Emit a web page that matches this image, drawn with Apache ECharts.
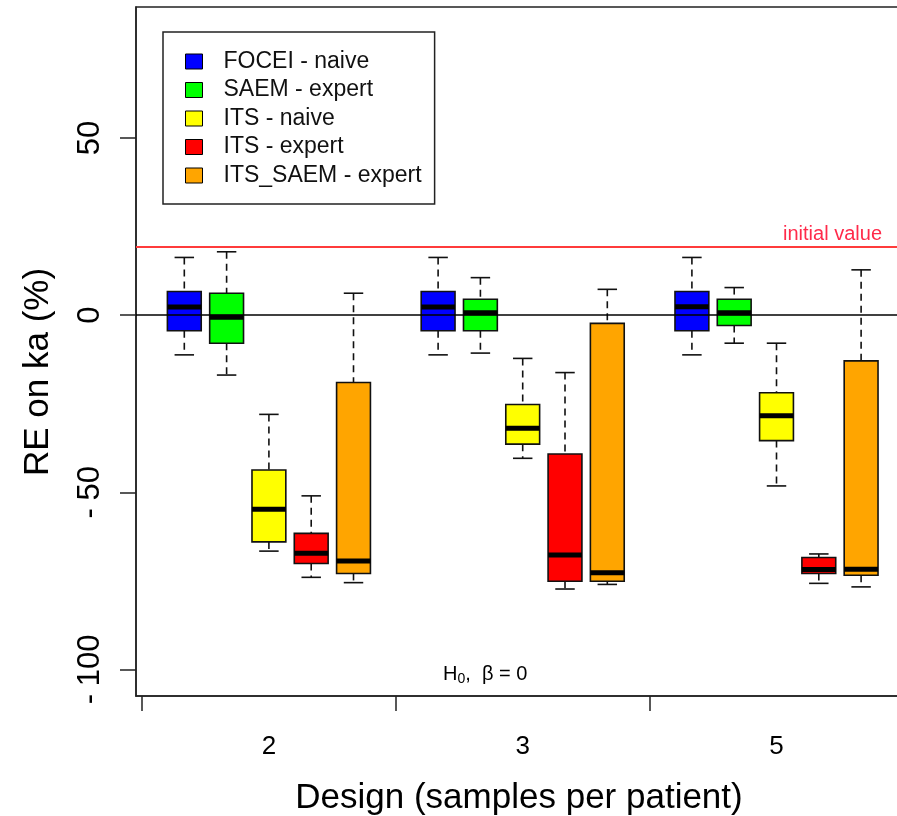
<!DOCTYPE html>
<html>
<head>
<meta charset="utf-8">
<script src="https://cdn.jsdelivr.net/npm/echarts@6/dist/echarts.min.js"></script>
<style>html,body{margin:0;padding:0;background:#fff}#c{width:897px;height:816px}</style>
</head>
<body>
<div id="c"></div>
<script>
// Designs (samples per patient)
var designs = ['2', '3', '5'];
var methods = ['FOCEI - naive', 'SAEM - expert', 'ITS - naive', 'ITS - expert', 'ITS_SAEM - expert'];
var colors = ['#0000ff', '#00ff00', '#ffff00', '#ff0000', '#ffa500'];
// each entry: [lower whisker, Q1, median, Q3, upper whisker] per design
var foceiNaive   = [[-11.2, -4.4, 2.3, 6.7, 16.3], [-11.2, -4.4, 2.3, 6.7, 16.3], [-11.2, -4.4, 2.4, 6.7, 16.3]];
var saemExpert   = [[-16.9, -7.9, -0.6, 6.2, 17.9], [-10.7, -4.4, 0.7, 4.5, 10.6], [-7.9, -2.9, 0.7, 4.5, 7.8]];
var itsNaive     = [[-66.6, -64.0, -54.8, -43.7, -28.0], [-40.4, -36.4, -31.9, -25.2, -12.2], [-48.2, -35.4, -28.4, -21.9, -7.9]];
var itsExpert    = [[-74.0, -70.1, -67.2, -61.6, -51.0], [-77.3, -75.1, -67.7, -39.2, -16.2], [-75.7, -72.9, -71.8, -68.4, -67.4]];
var itsSaemExpert= [[-75.5, -72.9, -69.4, -19.0, 6.2], [-76.0, -75.1, -72.7, -2.3, 7.3], [-76.7, -73.4, -71.7, -12.9, 12.8]];
var initialValue = 19.2;
var yTicks = [-100, -50, 0, 50];

var allStats = [foceiNaive, saemExpert, itsNaive, itsExpert, itsSaemExpert];
var groupWidth = 6; // 5 boxes + 1 gap slot
var boxHalf = 0.4, capHalf = 0.23;

function renderItem(params, api) {
  var x = api.value(0), lo = api.value(1), q1 = api.value(2), med = api.value(3), q3 = api.value(4), hi = api.value(5);
  var a = api.coord([x - boxHalf, q3]);
  var b = api.coord([x + boxHalf, q1]);
  var cHi = api.coord([x, hi]), cLo = api.coord([x, lo]);
  var cQ3 = api.coord([x, q3]), cQ1 = api.coord([x, q1]);
  var capL = api.coord([x - capHalf, hi]), capR = api.coord([x + capHalf, hi]);
  var capL2 = api.coord([x - capHalf, lo]), capR2 = api.coord([x + capHalf, lo]);
  var mL = api.coord([x - boxHalf, med]), mR = api.coord([x + boxHalf, med]);
  var ws = {stroke: '#111', lineWidth: 1.6, lineDash: [7, 5]};
  var cs = {stroke: '#111', lineWidth: 1.6};
  return {type: 'group', children: [
    {type: 'line', shape: {x1: cHi[0], y1: cHi[1], x2: cQ3[0], y2: cQ3[1]}, style: ws},
    {type: 'line', shape: {x1: cQ1[0], y1: cQ1[1], x2: cLo[0], y2: cLo[1]}, style: ws},
    {type: 'line', shape: {x1: capL[0], y1: capL[1], x2: capR[0], y2: capR[1]}, style: cs},
    {type: 'line', shape: {x1: capL2[0], y1: capL2[1], x2: capR2[0], y2: capR2[1]}, style: cs},
    {type: 'rect', shape: {x: a[0], y: a[1], width: b[0] - a[0], height: b[1] - a[1]},
      style: {fill: api.visual('color'), stroke: '#111', lineWidth: 1.6}},
    {type: 'line', shape: {x1: mL[0], y1: mL[1], x2: mR[0], y2: mR[1]}, style: {stroke: '#000', lineWidth: 5}}
  ]};
}

var series = methods.map(function (name, i) {
  var data = allStats[i].map(function (s, g) {
    return [1 + g * groupWidth + i].concat(s);
  });
  var ser = {
    name: name, type: 'custom', renderItem: renderItem,
    itemStyle: {color: colors[i], borderColor: '#000', borderWidth: 1},
    encode: {x: 0, y: [1, 2, 3, 4, 5]},
    data: data, z: 3
  };
  if (i === 0) {
    ser.markLine = {
      silent: true, symbol: 'none', animation: false,
      data: [
        {yAxis: 0, lineStyle: {color: '#000', width: 1.5, type: 'solid'}, label: {show: false}},
        {yAxis: initialValue, lineStyle: {color: '#ff3b3b', width: 1.8, type: 'solid'},
          label: {show: true, position: 'insideEndTop', formatter: 'initial value', color: '#ff2a4a',
            fontSize: 20, fontFamily: 'Liberation Sans, Arial', distance: [20, 3]}}
      ]
    };
  }
  return ser;
});

var tickPositions = designs.map(function (d, g) { return g * groupWidth; });
var labelPositions = designs.map(function (d, g) { return g * groupWidth + 3; });

var chart = echarts.init(document.getElementById('c'), null, {renderer: 'canvas'});
chart.setOption({
  backgroundColor: '#fff',
  animation: false,
  textStyle: {fontFamily: 'Liberation Sans, Arial, sans-serif'},
  grid: {left: 136, top: 7, right: -5, bottom: 120, show: true, borderColor: '#222', borderWidth: 1.5,
    backgroundColor: 'transparent', containLabel: false, outerBoundsMode: 'none'},
  legend: {
    orient: 'vertical', left: 163, top: 32, icon: 'rect',
    itemWidth: 17, itemHeight: 15, itemGap: 5.5,
    padding: [18, 13, 17, 22],
    borderColor: '#222', borderWidth: 1.5, backgroundColor: '#fff',
    itemStyle: {borderColor: '#000', borderWidth: 1},
    textStyle: {fontSize: 23, color: '#111', padding: [0, 0, 0, 16], fontFamily: 'Liberation Sans, Arial'},
    data: methods
  },
  xAxis: {
    type: 'value', min: -0.142, max: -0.142 + 766 / 42.3,
    name: 'Design (samples per patient)', nameLocation: 'middle', nameGap: 85,
    nameTextStyle: {fontSize: 35, color: '#000'},
    axisLine: {show: true, onZero: false, lineStyle: {color: '#222', width: 1.5}},
    axisTick: {show: true, length: 15, lineStyle: {color: '#222', width: 1.5}, customValues: tickPositions},
    axisLabel: {show: true, fontSize: 26, color: '#000', margin: 38, customValues: labelPositions,
      formatter: function (v) { var k = labelPositions.indexOf(v); return k >= 0 ? designs[k] : ''; }},
    splitLine: {show: false}
  },
  yAxis: {
    type: 'value', min: -107.5, max: 87,
    axisLine: {show: true, onZero: false, lineStyle: {color: '#222', width: 1.5}},
    axisTick: {show: true, length: 16, lineStyle: {color: '#222', width: 1.5}, customValues: yTicks},
    axisLabel: {show: true, fontSize: 31, color: '#000', rotate: 90, margin: 30, customValues: yTicks,
      formatter: function (v) { return v < 0 ? '-\u2005' + Math.abs(v) : String(v); }},
    splitLine: {show: false}
  },
  graphic: [{
    type: 'text', x: 38, y: 372, rotation: Math.PI / 2, z: 10,
    style: {text: 'RE on ka (%)', fontSize: 35, fill: '#000', fontFamily: 'Liberation Sans, Arial',
      align: 'center', verticalAlign: 'middle'}
  }, {
    type: 'text', left: 443, top: 664, z: 10,
    style: {
      text: '{a|H}{b|0}{a|,  β = 0}',
      rich: {
        a: {fontSize: 20, fill: '#000', fontFamily: 'Liberation Sans, Arial'},
        b: {fontSize: 14, fill: '#000', padding: [10, 0, 0, 0], fontFamily: 'Liberation Sans, Arial'}
      }
    }
  }],
  series: series
});
</script>
</body>
</html>
